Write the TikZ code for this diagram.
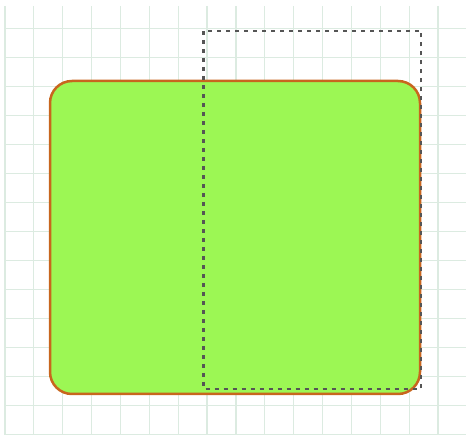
\documentclass[tikz,border=0pt]{standalone}
\definecolor{gridc}{HTML}{DCEBE1}
\definecolor{boxfill}{HTML}{9CF754}
\definecolor{boxdraw}{HTML}{C8661E}
\definecolor{dashc}{HTML}{555555}
\begin{document}
\begin{tikzpicture}[x=1pt,y=-1pt,
  gridline/.style={draw=gridc,line width=1.2pt},
  greenbox/.style={fill=boxfill,draw=boxdraw,line width=2.5pt,rounded corners=22pt},
  dashbox/.style={draw=dashc,line width=2.3pt,dash pattern=on 4pt off 5pt}]
\useasboundingbox (0,0) rectangle (466,435);
\foreach \i in {0,...,15} {
  \draw[gridline] ({5+28.87*\i},6) -- ({5+28.87*\i},435);
}
\foreach \j in {1,...,15} {
  \draw[gridline] (5,{29*\j-0.5}) -- (466,{29*\j-0.5});
}
\path[greenbox] (50,81) rectangle (420,394);
\draw[dashbox] (203.5,31) rectangle (421,389);
\end{tikzpicture}
\end{document}
